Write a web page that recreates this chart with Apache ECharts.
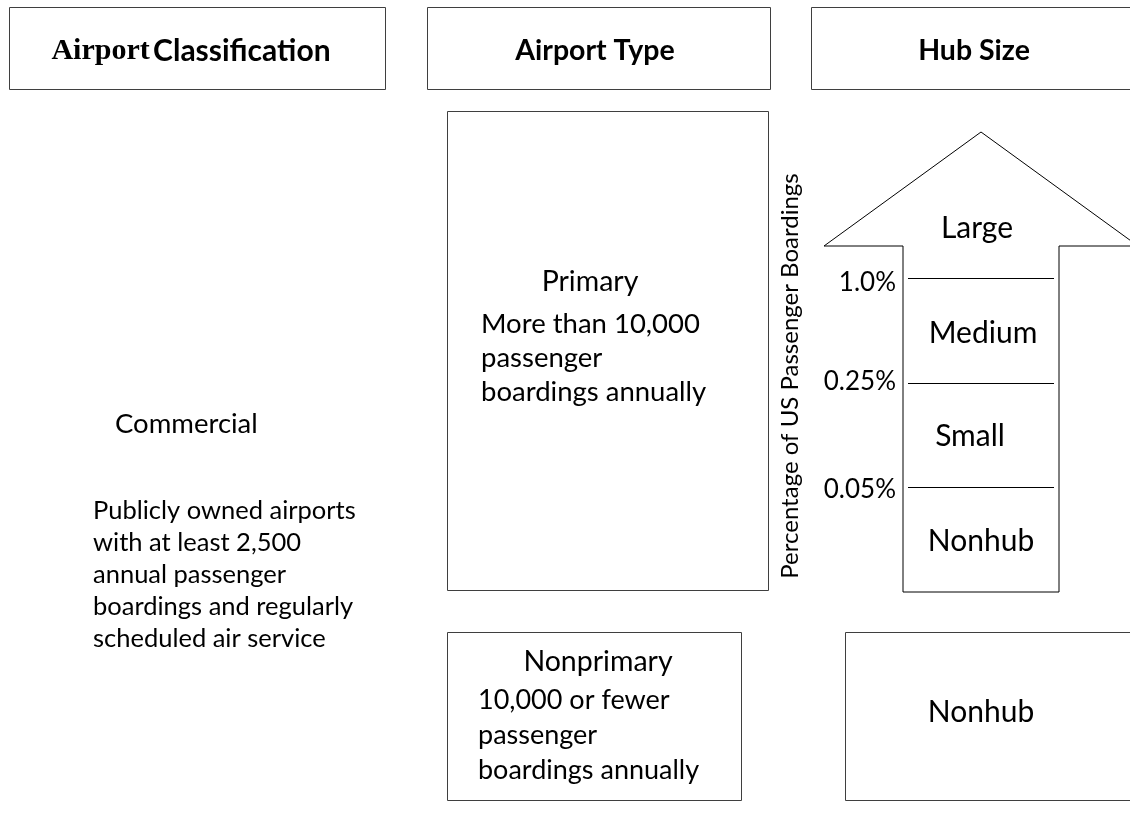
<!DOCTYPE html>
<html><head><meta charset="utf-8">
<script src="https://cdn.jsdelivr.net/npm/echarts@6/dist/echarts.min.js"></script>
<style>html,body{margin:0;padding:0;background:#fff}#c{width:1130px;height:814px}</style>
</head><body><div id="c"></div>
<script>
const headers = ['Airport Classification', 'Airport Type', 'Hub Size'];
const classification = 'Commercial';
const classificationDesc = ['Publicly owned airports', 'with at least 2,500', 'annual passenger', 'boardings and regularly', 'scheduled air service'];
const airportTypes = ['Primary', 'Nonprimary'];
const primaryDesc = ['More than 10,000', 'passenger', 'boardings annually'];
const nonprimaryDesc = ['10,000 or fewer', 'passenger', 'boardings annually'];
const hubSizes = ['Large', 'Medium', 'Small', 'Nonhub'];
const thresholds = ['1.0%', '0.25%', '0.05%'];
const axisTitle = 'Percentage of US Passenger Boardings';
const nonprimaryHub = 'Nonhub';

const FONT = 'Lato, "Open Sans", sans-serif';
const F = (s, w) => (w || 'normal') + ' ' + s + 'px ' + FONT;
const EDGE = '#3f3f3f';
const g = [];
function box(x, y, w, h, stroke) {
  g.push({type: 'rect', shape: {x: x + 0.5, y: y + 0.5, width: w, height: h},
    style: {fill: '#fff', stroke: stroke || EDGE, lineWidth: 1}});
}
function txt(t, x, y, opt) {
  opt = opt || {};
  g.push({type: 'text', x: x, y: y, rotation: opt.rot || 0,
    style: {text: t, x: 0, y: 0, font: opt.font || F(27), fill: '#000',
      align: opt.align || 'center', verticalAlign: 'middle'}});
}
// headers
box(9, 7, 376, 82);
box(427, 7, 343, 82);
box(811, 7, 325, 82);
const hp = headers[0].split(' ');
g.push({type: 'text', x: 191, y: 51, style: {
  text: '{a|' + hp[0] + '} {b|' + hp[1] + '}', align: 'center', verticalAlign: 'middle',
  rich: {a: {font: 'bold 30px "Liberation Serif", serif', fill: '#000'},
         b: {font: F(30, 'bold'), fill: '#000'}}}});
txt(headers[1], 595, 51, {font: F(28.5, 'bold')});
txt(headers[2], 974, 51, {font: F(28.5, 'bold')});

// classification
txt(classification, 115, 424, {align: 'left', font: F(27.5)});
classificationDesc.forEach((l, i) => txt(l, 93, 511 + i * 32, {align: 'left', font: F(25.5)}));

// primary
box(447, 111, 321, 479);
txt(airportTypes[0], 590, 282, {font: F(28.5)});
primaryDesc.forEach((l, i) => txt(l, 481, 324 + i * 34, {align: 'left', font: F(27.5)}));

// nonprimary
box(447, 632, 294, 168);
txt(airportTypes[1], 598, 662, {font: F(28.5)});
nonprimaryDesc.forEach((l, i) => txt(l, 478, 700 + i * 35, {align: 'left', font: F(27)}));

// nonhub box
box(845, 632, 300, 168);
txt(nonprimaryHub, 981, 712, {font: F(30)});

// arrow
g.push({type: 'polygon', shape: {points: [[981, 132], [1138, 246], [1059, 246], [1059, 592], [903, 592], [903, 246], [824, 246]]},
  style: {fill: '#fff', stroke: '#000', lineWidth: 1}});
const lineY = [278, 383, 487];
const labelY = [283, 382, 490];
lineY.forEach((y, i) => {
  g.push({type: 'line', shape: {x1: 908, y1: y + 0.5, x2: 1054, y2: y + 0.5}, style: {stroke: '#000', lineWidth: 1}});
  txt(thresholds[i], 896, labelY[i], {align: 'right', font: F(26)});
});
const hubPos = [[977, 228], [983, 333], [970, 436], [981, 541]];
hubSizes.forEach((h, i) => txt(h, hubPos[i][0], hubPos[i][1], {font: F(30)}));
txt(axisTitle, 790, 376, {rot: Math.PI / 2, font: F(24)});

const chart = echarts.init(document.getElementById('c'), null, {renderer: 'canvas'});
chart.setOption({animation: false, graphic: {elements: g}});
</script></body></html>
